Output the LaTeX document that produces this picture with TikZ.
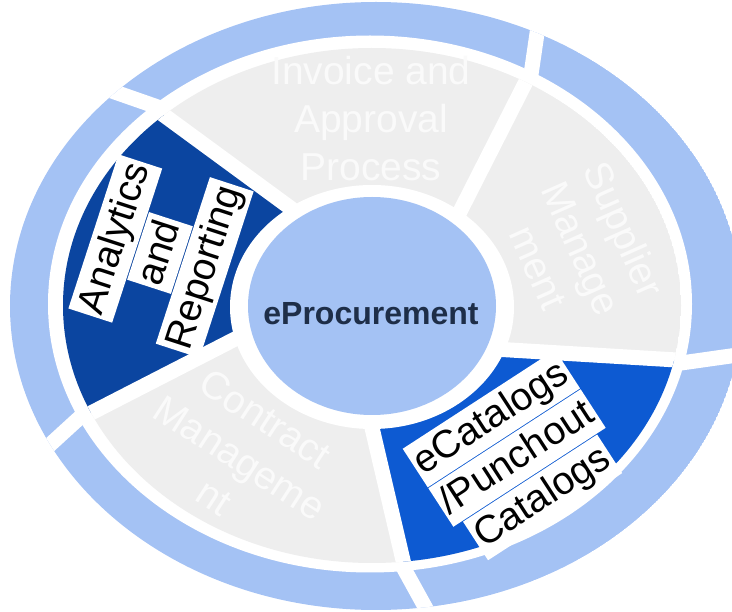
\documentclass[tikz,border=0pt]{standalone}
\usepackage{fontspec}
\setmainfont{Liberation Sans}
\definecolor{ringblue}{HTML}{A4C2F4}
\definecolor{seggrey}{HTML}{EEEEEE}
\definecolor{segtext}{HTML}{FAFAFA}
\definecolor{darkseg}{HTML}{0B45A0}
\definecolor{brightseg}{HTML}{0D5AD2}
\definecolor{navy}{HTML}{1E2E48}
\begin{document}
\begin{tikzpicture}[x=1pt,y=-1pt,
  gapline/.style={white, line width=15pt},
  greytxt/.style={text=segtext, font=\fontsize{39}{47}\selectfont, inner sep=0pt, text height=28pt, text depth=8pt},
  lbl/.style={fill=white, text=black, font=\fontsize{39}{47}\selectfont, inner xsep=3pt, inner ysep=0pt, text height=34pt, text depth=12pt}]
\useasboundingbox (0,0) rectangle (732,612);
% ---- outer ring
\begin{scope}
  \clip (376,306) ellipse [x radius=366, y radius=304];
  \fill[ringblue] (376,306) ellipse [x radius=366, y radius=304];
  \draw[gapline] (86,82) -- (172,112);
  \draw[gapline] (541,6) -- (527,102);
  \draw[gapline] (660,366) -- (780,349);
  \draw[gapline] (397,556) -- (440,634);
  \draw[gapline] (100,399) -- (30,463);
\end{scope}
\fill[white] (370,304) ellipse [x radius=322, y radius=268.5];
% ---- middle ring
\begin{scope}
  \clip (372,305.5) ellipse [x radius=309, y radius=257.5];
  \fill[seggrey] (372,305.5) ellipse [x radius=309, y radius=257.5];
  \fill[darkseg] (325.5,233.7) -- (60,39) -- (-20,39) -- (-20,470) -- (274,319) -- cycle;
  \fill[brightseg] (443.6,346) -- (760,365) -- (760,650) -- (424,650) -- (360,376.5) -- cycle;
  \draw[gapline] (325.5,233.7) -- (60,39);
  \draw[gapline] (441,249) -- (557,20.5);
  \draw[gapline] (443.6,346) -- (760,365);
  \draw[gapline] (360,376.5) -- (424,650);
  \draw[gapline] (274,319) -- (-20,470);
\end{scope}
\fill[white] (372,307) ellipse [x radius=142, y radius=122];
% ---- centre
\fill[ringblue] (372,306) ellipse [x radius=124, y radius=109];
\node[font=\fontsize{32}{38}\selectfont\bfseries, text=navy, inner sep=0pt] (hub) at (371,314) {eProcurement};
% ---- grey segment texts
\node[greytxt, anchor=base] (inv1) at (371,85) {Invoice and};
\node[greytxt, anchor=base] (inv2) at (371,133) {Approval};
\node[greytxt, anchor=base] (inv3) at (371,181) {Process};
\node[greytxt, rotate=-66] (sup1) at (621,231) {Supplier};
\node[greytxt, rotate=-66] (sup2) at (578,250) {Manage};
\node[greytxt, rotate=-66] (sup3) at (535,269) {ment};
\node[greytxt, rotate=-33] (con1) at (263.6,421.6) {Contract};
\node[greytxt, rotate=-33] (con2) at (238,461) {Manageme};
\node[greytxt, rotate=-33] (con3) at (212.4,500.4) {nt};
% ---- labelled segments
\node[lbl, rotate=72] (ana1) at (115.3,238.5) {Analytics};
\node[lbl, rotate=72] (ana2) at (160,253) {and};
\node[lbl, rotate=72] (ana3) at (204.7,267.5) {Reporting};
\node[lbl, rotate=33] (cat1) at (491.4,418.6) {eCatalogs};
\node[lbl, rotate=33] (cat2) at (517,458) {/Punchout};
\node[lbl, rotate=33] (cat3) at (542.6,497.4) {Catalogs};
\end{tikzpicture}
\end{document}
